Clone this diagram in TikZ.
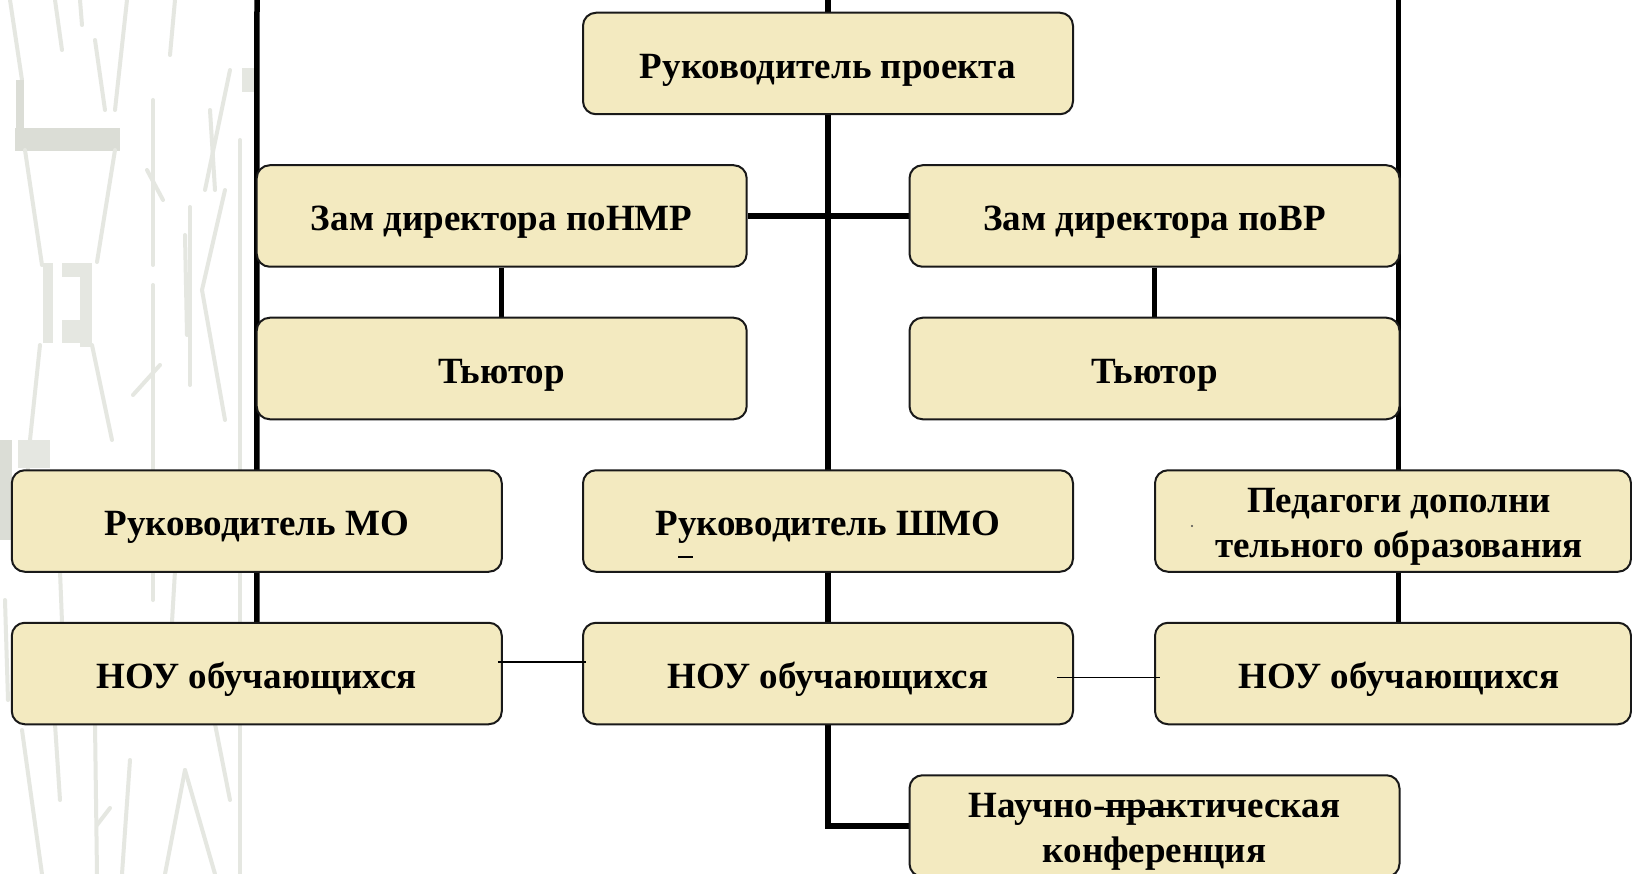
\documentclass[tikz,border=0pt]{standalone}
\usepackage{fontspec}
\setmainfont{Liberation Serif}
\usetikzlibrary{backgrounds,calc}
\definecolor{boxfill}{RGB}{243,234,192}
\definecolor{deco}{RGB}{229,231,225}
\definecolor{decodark}{RGB}{219,221,214}
\newcommand{\twolines}[2]{\raisebox{0pt}[0pt][18pt]{\begin{tabular}[t]{@{}c@{}}#1\\#2\end{tabular}}}
\tikzset{
  orgbox/.style={draw=black!90, line width=2pt, fill=boxfill, rounded corners=13pt,
    minimum width=490pt, minimum height=101.5pt, inner sep=0pt, align=center,
    font=\fontsize{37}{45}\selectfont\bfseries, text=black},
  oneline/.style={text height=29.6pt, text depth=0pt},
  thickline/.style={line width=5.5pt, black},
  thinline/.style={line width=1.5pt, black},
  decoline/.style={deco, line width=4pt, line cap=round},
  decobar/.style={fill=decodark, draw=none},
}
\begin{document}
\begin{tikzpicture}[x=1pt,y=-1pt]
\useasboundingbox (0,0) rectangle (1632,874);

% named anchor points for the long vertical lines
\coordinate (tL) at (257,0);
\coordinate (tC) at (828,0);
\coordinate (tR) at (1398.7,0);

% boxes
\node[orgbox, oneline] (proj) at (828,63.5) {Руководитель проекта};
\node[orgbox, oneline] (zamL) at (501.7,216) {Зам директора поНМР};
\node[orgbox, oneline] (zamR) at (1154.5,216) {Зам директора поВР};
\node[orgbox, oneline] (tutL) at (501.7,368.5) {Тьютор};
\node[orgbox, oneline] (tutR) at (1154.5,368.5) {Тьютор};
\node[orgbox, oneline] (mo) at (256.8,521) {Руководитель МО};
\node[orgbox, oneline] (shmo) at (828,521) {Руководитель ШМО};
\node[orgbox, minimum width=476pt] (ped) at (1393,521) {\hspace*{12pt}\twolines{Педагоги дополни}{тельного образования}};
\node[orgbox, oneline] (nouL) at (256.8,673.5) {НОУ обучающихся};
\node[orgbox, oneline] (nouM) at (828,673.5) {НОУ обучающихся};
\node[orgbox, oneline, minimum width=476pt] (nouR) at (1393,673.5) {\hspace*{12pt}НОУ обучающихся};
\node[orgbox] (sci) at (1154.5,826) {\twolines{Научно-практическая}{конференция}};

\begin{pgfonlayer}{background}
  \fill[white] (0,0) rectangle (1632,874);
  % faint decorative background strokes on the left
  \draw[decoline] (10,0) -- (22,80);
  \fill[decobar] (16,80) rectangle (24,150);
  \fill[decobar] (15,128) rectangle (120,151);
  \draw[decoline] (25,150) -- (42,265);
  \draw[decoline] (115,150) -- (97,262);
  \fill[deco] (43,263) rectangle (53,343);
  \fill[deco] (62,263) rectangle (80,277);
  \fill[deco] (62,320) rectangle (80,343);
  \fill[deco] (80,263) rectangle (92,347);
  \draw[decoline] (40,345) -- (30,440) -- (24,520);
  \draw[decoline] (92,345) -- (112,440);
  \draw[decoline] (55,0) -- (62,50);
  \draw[decoline] (80,0) -- (82,25);
  \draw[decoline] (127,0) -- (115,110);
  \draw[decoline] (95,40) -- (105,110);
  \draw[decoline] (175,0) -- (170,55);
  \draw[decoline] (153,100) -- (153,265);
  \draw[decoline] (147,170) -- (163,200);
  \draw[decoline] (153,285) -- (153,600);
  \draw[decoline] (133,395) -- (160,365);
  \draw[decoline] (190,207) -- (190,385);
  \draw[decoline] (185,235) -- (187,335);
  \draw[decoline] (230,70) -- (205,190);
  \draw[decoline] (210,110) -- (215,190);
  \draw[decoline] (225,190) -- (202,290) -- (225,420);
  \fill[deco] (242,68) rectangle (255,92);
  \draw[decoline] (240,140) -- (240,874);
  \fill[decodark] (0,440) rectangle (12,540);
  \fill[deco] (18,440) rectangle (50,468);
  \draw[decoline] (60,571) -- (62,622);
  \draw[decoline] (175,571) -- (172,622);
  \draw[decoline] (22,730) -- (42,874);
  \draw[decoline] (55,724) -- (60,800);
  \draw[decoline] (95,724) -- (97,874);
  \draw[decoline] (97,825) -- (110,808);
  \draw[decoline] (130,760) -- (122,874);
  \draw[decoline] (185,770) -- (165,874);
  \draw[decoline] (185,770) -- (215,874);
  \draw[decoline] (215,724) -- (230,800);
  \draw[decoline] (5,600) -- (8,700);

  % thick connectors (behind the boxes)
  \draw[thickline] (tL) -- (nouL.north);
  \draw[thickline] (tR) -- (tR |- nouR.north);
  \draw[thickline] (tC) |- (sci.west);
  \draw[thickline] (zamL.east) -- (zamR.west);
  \draw[thickline] (zamL.south) -- (tutL.north);
  \draw[thickline] (zamR.south) -- (tutR.north);
\end{pgfonlayer}

% thin connectors (on top of boxes)
\draw[thinline] ($(nouL.east)+(-5,-11.5)$) -- ($(nouM.west)+(4,-11.5)$);
\draw[thinline] ($(nouM.east)+(-17,4)$) -- ($(nouR.west)+(6,4)$);

% small stray marks
\draw[line width=1.8pt] (678,557) -- (693,557);
\fill[black!70] (1192,526) circle (1.2);
\draw[line width=2pt] (1104,809) -- (1176,809);
\end{tikzpicture}
\end{document}
